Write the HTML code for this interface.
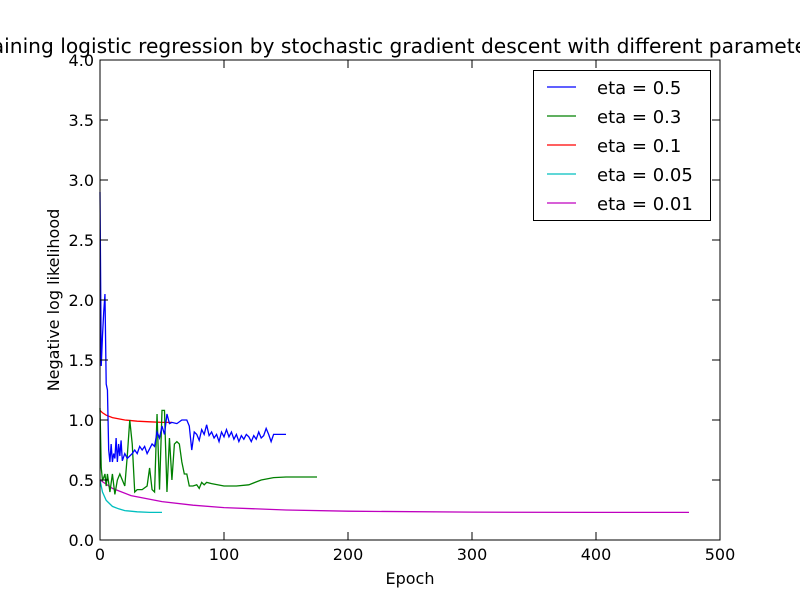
<!DOCTYPE html>
<html><head><meta charset="utf-8"><style>
html,body{margin:0;padding:0;background:#fff}
svg{display:block;font-family:"DejaVu Sans","Liberation Sans",sans-serif}
</style></head><body>
<svg id="chart" width="800" height="600" viewBox="0 0 800 600" xmlns="http://www.w3.org/2000/svg">
<rect width="800" height="600" fill="#fff"/>
<text x="400" y="53" font-size="20.2" text-anchor="middle">Training logistic regression by stochastic gradient descent with different parameters</text>
<g id="marks"></g>
<rect x="100" y="60" width="620" height="480" fill="none" stroke="#000" stroke-width="1"/>
<g id="ticks"></g>
<text x="410" y="584" font-size="16" text-anchor="middle">Epoch</text>
<text transform="translate(59,300) rotate(-90)" font-size="16" text-anchor="middle">Negative log likelihood</text>
<g id="legend"></g>
</svg>
<script>
const xTicks=[0,100,200,300,400,500];
const yTicks=[0.0,0.5,1.0,1.5,2.0,2.5,3.0,3.5,4.0];
const seriesLabels=["eta = 0.5","eta = 0.3","eta = 0.1","eta = 0.05","eta = 0.01"];
const seriesColors=["#0000ff","#008000","#ff0000","#00bfbf","#bf00bf"];
const blueX=[0,1,2,3,4,5,6,7,8,9,10,11,12,13,14,15,16,17,18,20,22,24,26,28,30,32,34,36,38,40,42,44,46,48,50,52,54,56,58,62,66,70,72,74,76,78,80,82,84,86,88,90,92,94,96,98,100,102,104,106,108,110,112,114,116,118,120,122,124,126,128,130,132,134,136,138,140,145,150];
const blueY=[2.9,1.45,1.7,1.9,2.05,1.3,1.25,0.75,0.65,0.8,0.65,0.72,0.68,0.85,0.65,0.8,0.7,0.83,0.66,0.72,0.68,0.7,0.72,0.75,0.72,0.78,0.75,0.78,0.72,0.76,0.8,0.78,0.9,0.85,0.95,0.88,1.05,0.97,0.98,0.97,1.0,1.0,0.95,0.75,0.9,0.88,0.83,0.92,0.88,0.96,0.87,0.9,0.85,0.88,0.82,0.9,0.86,0.92,0.86,0.9,0.84,0.88,0.82,0.87,0.84,0.88,0.86,0.82,0.87,0.84,0.9,0.85,0.87,0.93,0.88,0.82,0.88,0.88,0.88];
const greenX=[0,1,2,3,4,5,6,8,10,12,14,16,18,20,22,24,26,28,30,34,38,40,42,44,46,48,50,52,54,56,58,60,62,64,66,68,70,72,75,78,80,82,84,86,90,100,110,120,125,130,140,150,175];
const greenY=[1.1,0.6,0.5,0.52,0.55,0.45,0.55,0.4,0.55,0.38,0.5,0.55,0.5,0.45,0.7,1.0,0.8,0.4,0.42,0.42,0.45,0.6,0.42,0.4,1.05,0.42,1.08,1.08,0.4,0.85,0.5,0.8,0.82,0.8,0.65,0.55,0.55,0.45,0.45,0.46,0.43,0.48,0.46,0.48,0.47,0.45,0.45,0.46,0.48,0.5,0.52,0.525,0.525];
const redX=[0,2,5,10,20,30,40,50,58];
const redY=[1.08,1.06,1.04,1.02,1.0,0.99,0.985,0.98,0.98];
const cyanX=[0,2,5,10,15,20,30,40,50];
const cyanY=[0.5,0.4,0.33,0.28,0.26,0.245,0.235,0.23,0.23];
const magX=[0,10,25,50,75,100,150,200,300,400,475];
const magY=[0.5,0.43,0.37,0.32,0.29,0.27,0.25,0.24,0.232,0.23,0.23];

const NS="http://www.w3.org/2000/svg";
const sx=v=>100+v*620/500, sy=v=>540-v*480/4;
function mk(t,a,p){const e=document.createElementNS(NS,t);for(const k in a)e.setAttribute(k,a[k]);p.appendChild(e);return e;}
const marks=document.getElementById('marks');
const all=[[blueX,blueY],[greenX,greenY],[redX,redY],[cyanX,cyanY],[magX,magY]];
const names=['series-eta-0-5','series-eta-0-3','series-eta-0-1','series-eta-0-05','series-eta-0-01'];
[4,3,2,1,0].forEach(i=>{
  const [xs,ys]=all[i];
  const p=mk('polyline',{points:xs.map((x,j)=>sx(x)+','+sy(ys[j])).join(' '),fill:'none',stroke:seriesColors[i],'stroke-width':1.3},marks);
  
  
});
const tk=document.getElementById('ticks');
xTicks.forEach(v=>{
  const x=sx(v);
  mk('line',{x1:x,x2:x,y1:540,y2:532,stroke:'#000'},tk);
  mk('line',{x1:x,x2:x,y1:60,y2:68,stroke:'#000'},tk);
  const t=mk('text',{x:x,y:560,'font-size':16,'text-anchor':'middle'},tk);
  t.textContent=v;
  
  
});
yTicks.forEach(v=>{
  const y=sy(v);
  mk('line',{x1:100,x2:108,y1:y,y2:y,stroke:'#000'},tk);
  mk('line',{x1:720,x2:712,y1:y,y2:y,stroke:'#000'},tk);
  const t=mk('text',{x:94,y:y+6,'font-size':16,'text-anchor':'end'},tk);
  t.textContent=v.toFixed(1);
  
  
});
const lg=document.getElementById('legend');
mk('rect',{x:533.5,y:70.5,width:177,height:150,fill:'#fff',stroke:'#000'},lg);
seriesLabels.forEach((s,i)=>{
  const y=87+i*29;
  const l=mk('line',{x1:547,x2:576,y1:y,y2:y,stroke:seriesColors[i],'stroke-width':1.2},lg);
  
  
  const t=mk('text',{x:597,y:y+7,'font-size':18},lg);
  t.textContent=s;
  
  
});
</script>
</body></html>
